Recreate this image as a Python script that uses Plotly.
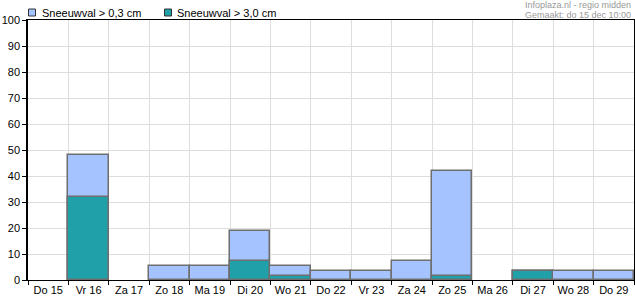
import plotly.graph_objects as go

days = ["Do 15", "Vr 16", "Za 17", "Zo 18", "Ma 19", "Di 20", "Wo 21", "Do 22",
        "Vr 23", "Za 24", "Zo 25", "Ma 26", "Di 27", "Wo 28", "Do 29"]
snow_03 = [0, 48, 0, 5.5, 5.5, 19, 5.5, 3.5, 3.5, 7.5, 42, 0, 3.5, 3.5, 3.5]
snow_30 = [0, 32, 0, 0, 0, 7.5, 1.5, 0, 0, 0, 1.5, 0, 3.5, 0, 0]
series_names = ["Sneeuwval > 0,3 cm", "Sneeuwval > 3,0 cm"]
series_colors = ["#A4C3FF", "#20A0A8"]
credit_lines = ["Infoplaza.nl - regio midden", "Gemaakt: do 15 dec 10:00"]

font = "Liberation Sans, Arial, sans-serif"


def nz(vals):
    return [v if v else None for v in vals]


fig = go.Figure()
for vals, name, col in zip([snow_03, snow_30], series_names, series_colors):
    fig.add_trace(go.Bar(x=days, y=nz(vals), name=name,
                         marker=dict(color=col, line=dict(color="#6E6E6E", width=1.5)),
                         opacity=1, showlegend=False))

W, H, L, R, T, B = 635, 300, 28, 1, 20, 20
pw, ph = W - L - R, H - T - B


def px(x):
    return (x - L) / pw


def py(y):
    return (H - B - y) / ph


for (sx, tx), name, col in zip([(28.5, 40), (164.5, 175)], series_names, series_colors):
    fig.add_shape(type="rect", xref="paper", yref="paper",
                  x0=px(sx), x1=px(sx + 7), y0=py(16), y1=py(9),
                  fillcolor=col, line=dict(color="#333333", width=1))
    fig.add_annotation(text=name, xref="paper", yref="paper", x=px(tx), y=py(12.5),
                       xanchor="left", yanchor="middle", showarrow=False,
                       font=dict(size=11, color="black"))

for i, line in enumerate(credit_lines):
    fig.add_annotation(text=line, x=px(632), xref="paper", xanchor="right",
                       y=py(4.8 + 10.5 * i), yref="paper", yanchor="middle",
                       showarrow=False, borderpad=0,
                       font=dict(size=9, color="#999999"))

fig.update_layout(
    width=W, height=H,
    margin=dict(l=L, r=R, t=T, b=B, autoexpand=False),
    paper_bgcolor="white", plot_bgcolor="white",
    barmode="overlay", bargap=0,
    font=dict(family=font, size=11, color="black"),
    xaxis=dict(type="category", tickson="boundaries", showgrid=True, gridcolor="#DDDDDD",
               ticks="outside", ticklen=4, tickcolor="black", tickangle=0,
               showline=True, linecolor="black", linewidth=1, mirror=True,
               automargin=False, tickfont=dict(size=11)),
    yaxis=dict(range=[0, 100], dtick=10, showgrid=True, gridcolor="#DDDDDD",
               ticks="outside", ticklen=4, tickcolor="black",
               showline=True, linecolor="black", linewidth=1.5, mirror=True,
               zeroline=False, automargin=False, tickfont=dict(size=11)),
)

fig.write_html("out.html")
